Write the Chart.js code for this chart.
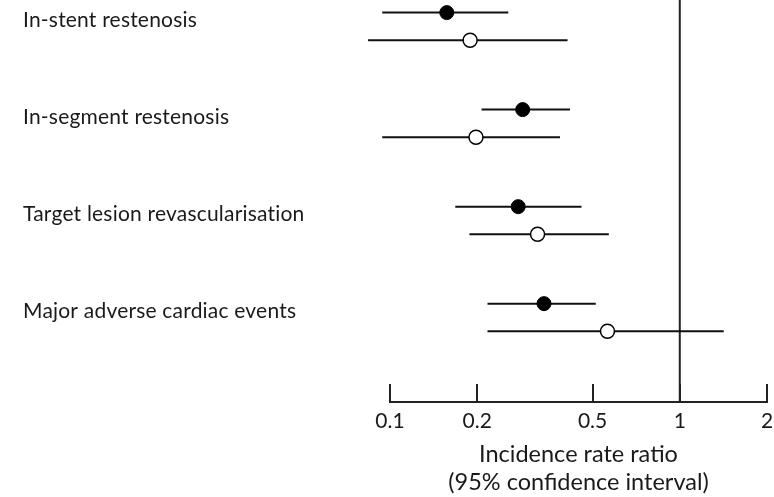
<!DOCTYPE html>
<html>
<head>
<meta charset="utf-8">
<script src="https://cdn.jsdelivr.net/npm/chart.js@4/dist/chart.umd.min.js"></script>
<style>
  html, body { margin: 0; padding: 0; background: #fff; }
  canvas { display: block; }
</style>
</head>
<body>
<canvas id="c" width="774" height="497"></canvas>
<script>
// Outcomes, top to bottom
const outcomes = [
  "In-stent restenosis",
  "In-segment restenosis",
  "Target lesion revascularisation",
  "Major adverse cardiac events"
];

// Filled markers: incidence rate ratio with 95% CI
const filledRatio = [0.157, 0.287, 0.277, 0.340];
const filledLow   = [0.094, 0.207, 0.168, 0.217];
const filledHigh  = [0.256, 0.418, 0.458, 0.513];

// Open markers: incidence rate ratio with 95% CI
const openRatio = [0.189, 0.198, 0.323, 0.563];
const openLow   = [0.084, 0.094, 0.188, 0.217];
const openHigh  = [0.410, 0.386, 0.569, 1.418];

// Axis ticks
const tickValues = [0.1, 0.2, 0.5, 1, 2];
const tickLabels = ["0.1", "0.2", "0.5", "1", "2"];

const FONT = "Lato, 'Liberation Sans', sans-serif";
const INK = "#1a1a1a";

// Row layout: each outcome occupies one unit, two rows inside it
const Y_MAX = 4.144;
const rowY = (g, s) => g + 0.13 + s * 0.285;

const datasets = [];

// Confidence interval segments
outcomes.forEach((_, g) => {
  [[filledLow, filledHigh, 0], [openLow, openHigh, 1]].forEach(([lo, hi, s]) => {
    datasets.push({
      data: [{ x: lo[g], y: rowY(g, s) }, { x: hi[g], y: rowY(g, s) }],
      showLine: true,
      borderColor: "#111",
      borderWidth: 2,
      pointRadius: 0,
      clip: false,
      order: 3
    });
  });
});

// Line of no effect at ratio 1
datasets.push({
  data: [{ x: 1, y: 0 }, { x: 1, y: Y_MAX }],
  showLine: true,
  borderColor: "#222",
  borderWidth: 2,
  pointRadius: 0,
  clip: false,
  order: 4
});

// Point estimates
datasets.push({
  data: filledRatio.map((v, g) => ({ x: v, y: rowY(g, 0) })),
  pointRadius: 7,
  pointBackgroundColor: "#000",
  pointBorderColor: "#000",
  pointBorderWidth: 1,
  clip: false,
  order: 1
});
datasets.push({
  data: openRatio.map((v, g) => ({ x: v, y: rowY(g, 1) })),
  pointRadius: 7,
  pointBackgroundColor: "#fff",
  pointBorderColor: "#000",
  pointBorderWidth: 1.5,
  clip: false,
  order: 1
});

// Upward tick marks and outcome labels
const forestDecor = {
  id: "forestDecor",
  afterDraw(chart) {
    const { ctx, chartArea } = chart;
    const xs = chart.scales.x, ys = chart.scales.y;
    ctx.save();
    ctx.strokeStyle = "#222";
    ctx.lineWidth = 2;
    tickValues.forEach(v => {
      const px = Math.round(xs.getPixelForValue(v));
      ctx.beginPath();
      ctx.moveTo(px, chartArea.bottom + 1);
      ctx.lineTo(px, chartArea.bottom - 18);
      ctx.stroke();
    });
    ctx.fillStyle = INK;
    ctx.font = "21px " + FONT;
    // slight tracking, which also keeps "ti" from joining into a ligature
    ctx.letterSpacing = "0.2px";
    ctx.textAlign = "left";
    ctx.textBaseline = "middle";
    outcomes.forEach((name, g) => {
      ctx.fillText(name, 23, ys.getPixelForValue(rowY(g, 0)) + 8);
    });
    ctx.restore();
  }
};

new Chart(document.getElementById("c"), {
  type: "scatter",
  data: { datasets },
  options: {
    responsive: false,
    animation: false,
    events: [],
    layout: { autoPadding: false, padding: { left: 390, right: 7, top: 0, bottom: 0 } },
    plugins: { legend: { display: false }, tooltip: { enabled: false } },
    scales: {
      x: {
        type: "logarithmic",
        position: "bottom",
        min: 0.1,
        max: 2,
        afterBuildTicks: s => { s.ticks = tickValues.map(v => ({ value: v })); },
        afterFit: s => {
          s.height = 95;
          // the end labels may overhang the plot edges
          s.paddingLeft = 0;
          s.paddingRight = 0;
        },
        ticks: {
          autoSkip: false,
          maxRotation: 0,
          padding: 7,
          color: INK,
          font: { family: FONT, size: 21 },
          callback: (v, i) => tickLabels[i]
        },
        grid: { drawOnChartArea: false, drawTicks: false },
        border: { display: true, color: "#222", width: 2 },
        title: {
          display: true,
          text: ["Incidence rate ratio", "(95% confidence interval)"],
          color: INK,
          font: { family: FONT, size: 23.5, lineHeight: 1.2 },
          padding: { top: 0, bottom: 0 }
        }
      },
      y: {
        type: "linear",
        display: false,
        min: 0,
        max: Y_MAX,
        reverse: true
      }
    }
  },
  plugins: [forestDecor]
});
</script>
</body>
</html>
